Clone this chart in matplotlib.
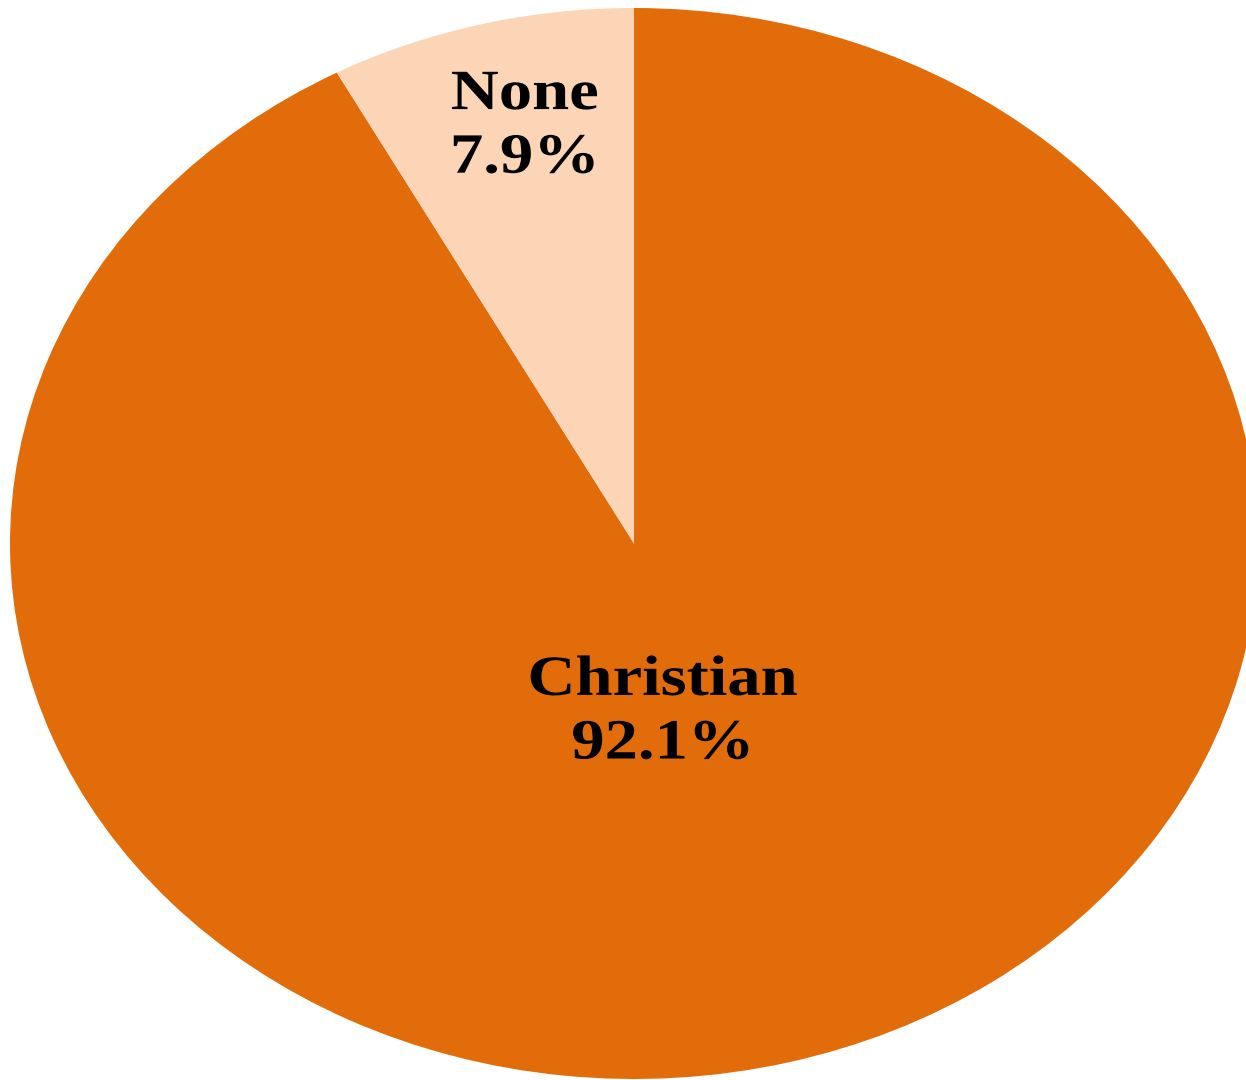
import matplotlib
matplotlib.use("Agg")
import matplotlib.pyplot as plt
from matplotlib.patheffects import AbstractPathEffect
from matplotlib.transforms import Affine2D

categories = ["Christian", "None"]
values = [92.1, 7.9]
colors = ["#E36C0A", "#FBD5B5"]
label_pos = {"None": (-0.175, 0.778), "Christian": (0.046, -0.316)}


class HStretch(AbstractPathEffect):
    """Stretch glyphs horizontally about each line's centre."""
    def __init__(self, sx):
        super().__init__()
        self.sx = sx

    def draw_path(self, renderer, gc, tpath, affine, rgbFace=None):
        ext = tpath.get_extents()
        c = (ext.x0 + ext.x1) / 2
        st = Affine2D().translate(-c, 0).scale(self.sx, 1).translate(c, 0)
        renderer.draw_path(gc, tpath, st + affine, rgbFace)


fig = plt.figure(figsize=(12.46, 10.8), dpi=100)
ax = fig.add_axes([0, 0, 1, 1])
ax.pie(values, colors=colors, startangle=90, counterclock=False,
       radius=1.0, center=(0, 0), frame=False,
       wedgeprops=dict(linewidth=0))
ax.set_aspect("auto")
ax.set_xlim(-634 / 624, (1246 - 634) / 624)
ax.set_ylim(-(1080 - 543.5) / 535.5, 543.5 / 535.5)
ax.axis("off")

for cat, val in zip(categories, values):
    x, y = label_pos[cat]
    ax.text(x, y, f"{cat}\n{val:.1f}%", ha="center", va="center",
            fontsize=41, fontweight="bold", family="Liberation Serif",
            linespacing=1.29, color="black",
            path_effects=[HStretch(1.17)])

fig.savefig("out.png", dpi=100)
